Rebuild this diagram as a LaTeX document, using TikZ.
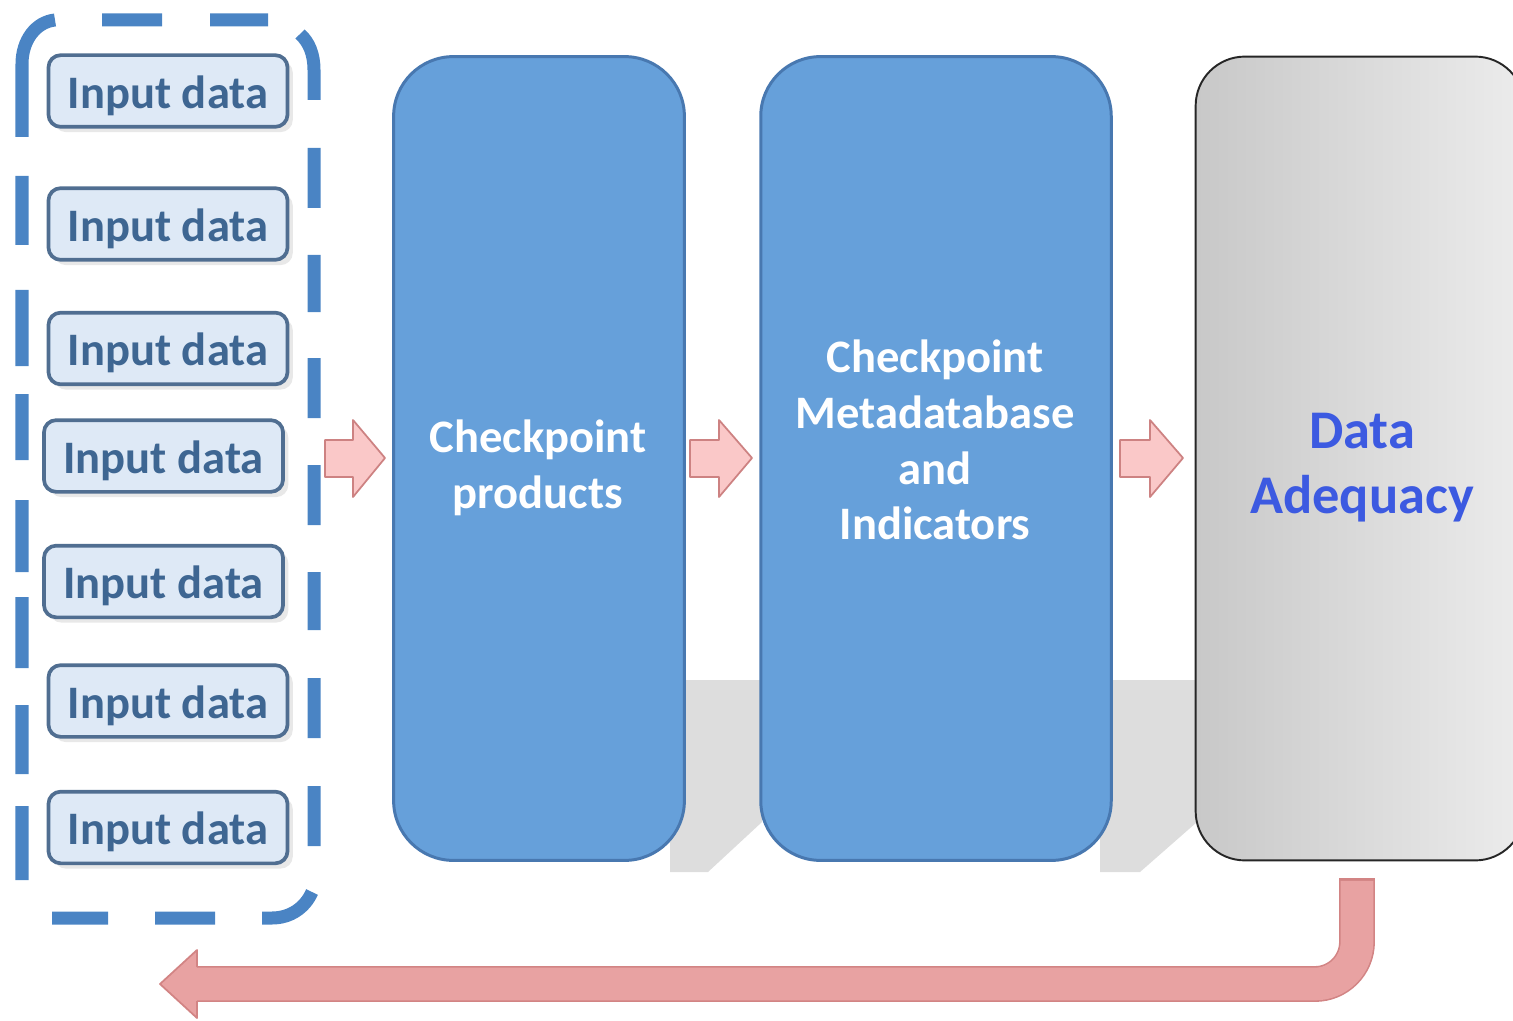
\documentclass[tikz,border=0pt]{standalone}
\usepackage{fontspec}
\setmainfont{Carlito}
\usetikzlibrary{shadows}
\definecolor{dashblue}{RGB}{74,132,196}
\definecolor{infill}{RGB}{222,233,246}
\definecolor{inborder}{RGB}{80,110,145}
\definecolor{intext}{RGB}{62,102,146}
\definecolor{boxblue}{RGB}{102,160,218}
\definecolor{blueborder}{RGB}{72,120,176}
\definecolor{grayL}{RGB}{200,200,200}
\definecolor{grayR}{RGB}{236,236,236}
\definecolor{datext}{RGB}{60,90,225}
\definecolor{pinkfill}{RGB}{250,200,200}
\definecolor{pinkborder}{RGB}{205,130,130}
\definecolor{retfill}{RGB}{232,162,162}
\definecolor{retborder}{RGB}{210,132,132}
\definecolor{shadowgray}{RGB}{221,221,221}
\tikzset{
  frame/.style={draw=dashblue, line width=7.4pt, line cap=butt},
  inbox/.style={draw=inborder, line width=2.1pt, fill=infill, rounded corners=7pt,
    minimum width=136.1pt, minimum height=40.8pt, inner sep=0pt, text=intext,
    text height=24.6pt, text depth=5pt,
    font=\bfseries\fontsize{26.5}{30}\selectfont,
    drop shadow={shadow xshift=3pt, shadow yshift=-3pt, opacity=0.18}},
  bluebox/.style={draw=blueborder, line width=1.7pt, fill=boxblue, rounded corners=34pt,
    minimum height=457.5pt, inner sep=0pt},
  graybox/.style={draw=black!85, line width=1.1pt, left color=grayL, right color=grayR,
    rounded corners=28pt, minimum height=457.5pt, inner sep=0pt},
  whitetxt/.style={text=white, align=center, font=\bfseries\fontsize{26.5}{31.8}\selectfont},
  datxt/.style={text=datext, align=center, font=\bfseries\fontsize{31}{37}\selectfont},
  pinkarrow/.style={fill=pinkfill, draw=pinkborder, line width=1pt, line join=round},
}
\begin{document}
\begin{tikzpicture}[x=0.02cm,y=-0.02cm]
\useasboundingbox (0,0) rectangle (1513,1020);
\clip (0,0) rectangle (1513,1020);
% soft shadows behind the big boxes
\fill[shadowgray] (670,680) -- (762,680) -- (762,822) -- (708,872) -- (670,872) -- cycle;
\fill[shadowgray] (1100,680) -- (1197,680) -- (1197,822) -- (1140,872) -- (1100,872) -- cycle;
% dashed group frame, dash by dash
\draw[frame]
  (22,137) -- (22,64) .. controls (22,40) and (36,22) .. (55,20)
  (102,20) -- (162,20)
  (210,20) -- (268,20)
  (300,34) .. controls (309,42) and (314,54) .. (314,70) -- (314,100)
  (314,148) -- (314,208)
  (314,255) -- (314,312)
  (314,358) -- (314,418)
  (314,465) -- (314,525)
  (314,572) -- (314,630)
  (314,678) -- (314,738)
  (314,786) -- (314,846)
  (312,892) .. controls (305,908) and (290,918) .. (272,918) -- (262,918)
  (215,918) -- (155,918)
  (108,918) -- (52,918)
  (22,880) -- (22,806)
  (22,774) -- (22,705)
  (22,668) -- (22,597)
  (22,572) -- (22,500)
  (22,460) -- (22,394)
  (22,366) -- (22,290)
  (22,245) -- (22,176);
% input boxes
\node[inbox] (in1) at (168,91) {Input data};
\node[inbox] (in2) at (168,224) {Input data};
\node[inbox] (in3) at (168,348.5) {Input data};
\node[inbox] (in4) at (163.5,456) {Input data};
\node[inbox] (in5) at (163.5,581.5) {Input data};
\node[inbox] (in6) at (168,701) {Input data};
\node[inbox] (in7) at (168,827.5) {Input data};
% main boxes
\node[bluebox, minimum width=165.5pt] (cp) at (539,458.5) {};
\node[bluebox, minimum width=199.5pt] (cm) at (936,458.5) {};
\node[graybox, minimum width=187.1pt] (da) at (1360,458.5) {};
\node[whitetxt] (cpt) at (538,468) {Checkpoint\\products};
\node[whitetxt] (cmt) at (935,440) {Checkpoint\\Metadatabase\\and\\Indicators};
\node[datxt] (dat) at (1362,468) {Data\\Adequacy};
% block arrows
\draw[pinkarrow] (325,440) -- (353,440) -- (353,420) -- (385,458) -- (353,497) -- (353,477) -- (325,477) -- cycle;
\draw[pinkarrow] (690,440) -- (719,440) -- (719,420) -- (752,458) -- (719,497) -- (719,477) -- (690,477) -- cycle;
\draw[pinkarrow] (1120,440) -- (1150,440) -- (1150,420) -- (1183,458) -- (1150,497) -- (1150,477) -- (1120,477) -- cycle;
% return arrow
\coordinate (rs) at (1357,878);
\coordinate (rt) at (197,984);
\fill[retfill] (197,950) -- (160,984) -- (197,1018) -- cycle;
\draw[retborder, line width=20.4pt, rounded corners=24pt] (rs) |- (rt);
\draw[retfill, line width=18.6pt, rounded corners=24pt] ([yshift=-1.6pt]rs) |- (rt);
\draw[retborder, line width=1pt, line join=round] (197,967) -- (197,950) -- (160,984) -- (197,1018) -- (197,1001);
\end{tikzpicture}
\end{document}
